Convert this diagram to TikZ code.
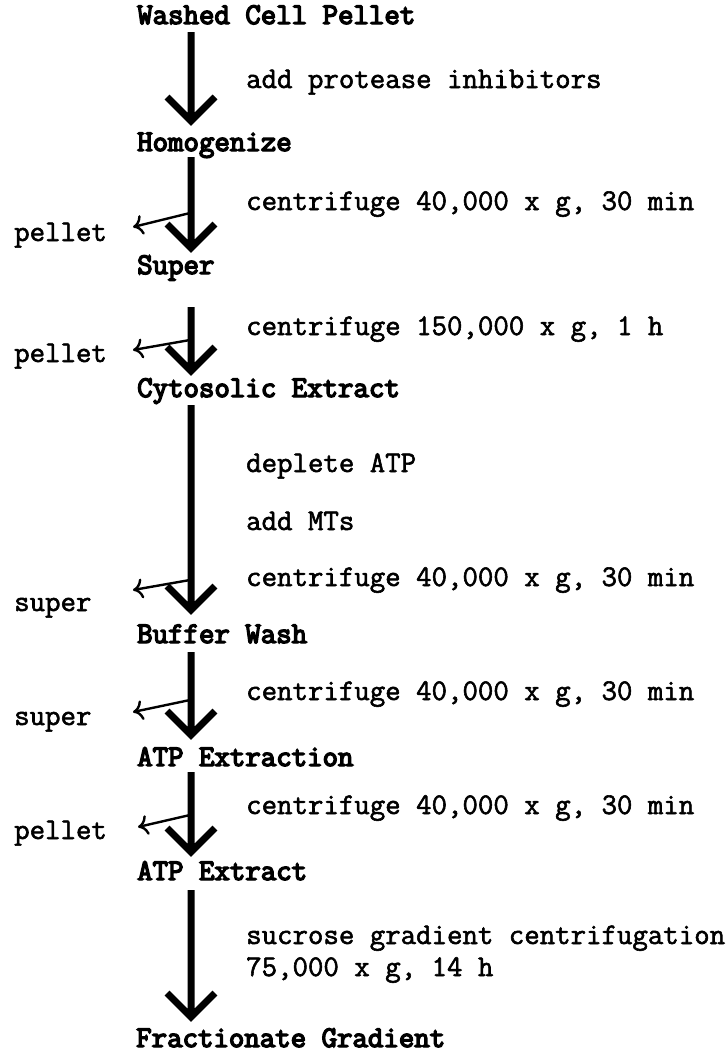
\documentclass[tikz,border=0pt]{standalone}
\usepackage{fontspec}
\usetikzlibrary{arrows.meta}
\newfontfamily\twfont{Latin Modern Mono}[FakeBold=1.9]
\newfontfamily\twbfont{Latin Modern Mono}[FakeBold=4.8]
\begin{document}
\begin{tikzpicture}[x=1pt,y=-1pt,
  lab/.style={anchor=base west, inner sep=0pt, font={\twfont\fontsize{30}{35}\selectfont}},
  head/.style={anchor=base west, inner sep=0pt, font={\twbfont\fontsize{30}{35}\selectfont}},
  flow/.style={line width=7pt, line join=miter, to path={(\tikztostart) -- (\tikztotarget) (\tikztotarget) ++(-24,-24) -- (\tikztotarget) -- ++(24,-24)}},
  side/.style={line width=2.4pt, -{To[length=10pt,width=20pt]}}]
\fill[white] (0,0) rectangle (728,1052);
\useasboundingbox (0,0) rectangle (728,1052);
% headings
\node[head] (washed) at (137,24) {Washed Cell Pellet};
\node[head] (homog)  at (137,151) {Homogenize};
\node[head] (super)  at (137,274) {Super};
\node[head] (cyto)   at (137,397) {Cytosolic Extract};
\node[head] (buffer) at (137,643) {Buffer Wash};
\node[head] (atpx)   at (137,766) {ATP Extraction};
\node[head] (atpe)   at (137,880) {ATP Extract};
\node[head] (frac)   at (136,1047) {Fractionate Gradient};
% step labels
\node[lab] (l1)  at (246,88)  {add protease inhibitors};
\node[lab] (l2)  at (246,210) {centrifuge 40,000 x g, 30 min};
\node[lab] (l3)  at (246,335) {centrifuge 150,000 x g, 1 h};
\node[lab] (l4a) at (246,472) {deplete ATP};
\node[lab] (l4b) at (246,530) {add MTs};
\node[lab] (l4c) at (246,586) {centrifuge 40,000 x g, 30 min};
\node[lab] (l5)  at (246,700) {centrifuge 40,000 x g, 30 min};
\node[lab] (l6)  at (246,814) {centrifuge 40,000 x g, 30 min};
\node[lab] (l7a) at (246,944) {sucrose gradient centrifugation};
\node[lab] (l7b) at (246,976) {75,000 x g, 14 h};
% discarded fractions
\node[lab] (p2) at (14,241) {pellet};
\node[lab] (p3) at (14,362) {pellet};
\node[lab] (s4) at (14,611) {super};
\node[lab] (s5) at (14,725) {super};
\node[lab] (p6) at (14,839) {pellet};
% main arrows: start and tip points
\coordinate (a1s) at (191,32);  \coordinate (a1e) at (191,121);
\coordinate (a2s) at (191,157); \coordinate (a2e) at (191,248);
\coordinate (a3s) at (191,307); \coordinate (a3e) at (191,371);
\coordinate (a4s) at (191,405); \coordinate (a4e) at (191,610);
\coordinate (a5s) at (191,652); \coordinate (a5e) at (191,735);
\coordinate (a6s) at (191,772); \coordinate (a6e) at (191,852);
\coordinate (a7s) at (191,890); \coordinate (a7e) at (191,1017);
\draw[flow] (a1s) to (a1e);
\draw[flow] (a2s) to (a2e);
\draw[flow] (a3s) to (a3e);
\draw[flow] (a4s) to (a4e);
\draw[flow] (a5s) to (a5e);
\draw[flow] (a6s) to (a6e);
\draw[flow] (a7s) to (a7e);
% side arrows
\coordinate (b2s) at (190,213); \coordinate (b2e) at (133,227);
\coordinate (b3s) at (190,340); \coordinate (b3e) at (133,350);
\coordinate (b4s) at (190,580); \coordinate (b4e) at (133,590);
\coordinate (b5s) at (190,700); \coordinate (b5e) at (133,712);
\coordinate (b6s) at (190,815); \coordinate (b6e) at (138,827);
\draw[side] (b2s) -- (b2e);
\draw[side] (b3s) -- (b3e);
\draw[side] (b4s) -- (b4e);
\draw[side] (b5s) -- (b5e);
\draw[side] (b6s) -- (b6e);
\end{tikzpicture}
\end{document}
